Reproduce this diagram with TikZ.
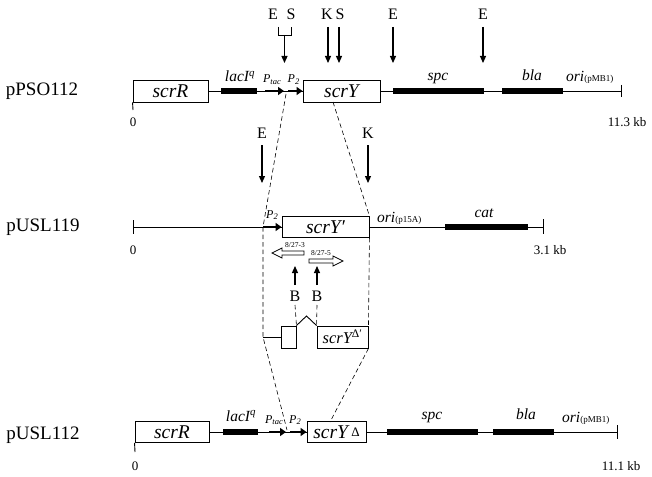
\documentclass[tikz,border=0pt]{standalone}
\usepackage{fontspec}
\setmainfont{Liberation Serif}
\usetikzlibrary{arrows.meta}
\tikzset{
  gbox/.style={draw, line width=0.9pt, inner sep=0pt, font=\fontsize{19.5}{21}\selectfont\itshape},
  sbox/.style={draw, line width=0.9pt, inner sep=0pt},
  gbar/.style={fill=black, inner sep=0pt, minimum height=6pt},
  bb/.style={line width=0.9pt},
  site/.style={line width=1.2pt, -{Triangle[length=7pt,width=6pt]}},
  sitelab/.style={font=\fontsize{16}{18}\selectfont, inner sep=0pt},
  glab/.style={font=\fontsize{15.5}{17}\selectfont\itshape, inner sep=0pt, anchor=base},
  promlab/.style={font=\fontsize{12}{13}\selectfont\itshape, inner sep=0pt, anchor=base},
  prom/.style={line width=2.6pt, -{Triangle[length=6pt,width=8pt]}},
  dsh/.style={line width=0.6pt, dash pattern=on 4.5pt off 3pt},
  plab/.style={font=\fontsize{19}{22}\selectfont, inner sep=0pt},
  num/.style={font=\fontsize{13}{15}\selectfont, inner sep=0pt},
  prim/.style={font=\fontsize{7.5}{8}\selectfont, inner sep=0pt},
  primer/.style={draw, fill=white, line width=0.7pt},
}
\newcommand{\oriL}[1]{ori{\upshape\fontsize{9}{10}\selectfont(#1)}}
\newcommand{\Ptac}{P\raisebox{-1.5pt}{\fontsize{8.5}{9}\selectfont tac}}
\newcommand{\Ptwo}{P\raisebox{-1.5pt}{\fontsize{8.5}{9}\selectfont 2}}
\begin{document}
\begin{tikzpicture}[x=1pt,y=-1pt]
\useasboundingbox (0,0) rectangle (652,476);
\fill[white] (0,0) rectangle (652,476);

% ================= pPSO112 =================
\node[plab] (nma) at (42,91) {pPSO112};
\node[gbox, minimum width=75pt, minimum height=22pt] (scrRa) at (170.5,91) {scrR};
\node[gbar, minimum width=36pt] (laca) at (239,91) {};
\node[gbox, minimum width=77pt, minimum height=22pt] (scrYa) at (341.5,91) {scrY};
\node[gbar, minimum width=91pt] (spca) at (438.5,91) {};
\node[gbar, minimum width=61pt] (blaa) at (532.5,91) {};
\coordinate (taila) at (133,110);
\coordinate (enda) at (621,91);
\coordinate (enda1) at (621,85);
\coordinate (enda2) at (621,97);
\coordinate (ptaca1) at (265,91);
\coordinate (ptaca2) at (284,91);
\coordinate (p2a1) at (288,91);
\draw[bb] (scrRa.south west) -- (taila);
\draw[bb] (scrRa.east) -- (laca.west) (laca.east) -- (scrYa.west)
  (scrYa.east) -- (spca.west) (spca.east) -- (blaa.west) (blaa.east) -- (enda);
\draw[bb] (enda1) -- (enda2);
\draw[prom] (ptaca1) -- (ptaca2);
\draw[prom] (p2a1) -- (scrYa.west);
\node[glab] (lacaL) at (240,82) {lacI\textsuperscript{q}};
\node[glab] (spcaL) at (438,81) {spc};
\node[glab] (blaaL) at (532,81) {bla};
\node[glab, anchor=base west] (oriaL) at (566,82) {\oriL{pMB1}};
\node[promlab] (ptacaL) at (272,83) {\Ptac};
\node[promlab] (p2aL) at (293.5,83) {\Ptwo};
\node[num] (zeroa) at (133,122) {0};
\node[num] (kba) at (627,122) {11.3 kb};

% restriction sites
\node[sitelab] (Ea) at (273,14) {E};
\node[sitelab] (Sa) at (291,14) {S};
\node[sitelab] (Ka) at (327,14) {K};
\node[sitelab] (Sb) at (340,14) {S};
\node[sitelab] (Eb) at (393,14) {E};
\node[sitelab] (Ec) at (483,14) {E};
\coordinate (bl1) at (278,27);
\coordinate (bl2) at (278,35);
\coordinate (br2) at (291,35);
\coordinate (br1) at (291,27);
\coordinate (bm1) at (284.5,35);
\coordinate (bm2) at (284.5,63);
\draw[bb] (bl1) -- (bl2) -- (br2) -- (br1);
\draw[site] (bm1) -- (bm2);
\foreach \n/\xx in {k1/328, s1/339, e1/393, e2/483}{
  \coordinate (\n t) at (\xx,27);
  \coordinate (\n b) at (\xx,63);
  \draw[site] (\n t) -- (\n b);
}

% ================= pUSL119 =================
\node[plab] (nmb) at (43,227) {pUSL119};
\coordinate (startb) at (133,227);
\coordinate (tailb1) at (133,220);
\coordinate (tailb2) at (133,234);
\node[gbox, minimum width=87pt, minimum height=21pt] (scrYb) at (325.5,227) {scrY′};
\node[gbar, minimum width=83pt] (catb) at (486.5,227) {};
\coordinate (endb) at (543,227);
\coordinate (endb1) at (543,219);
\coordinate (endb2) at (543,234);
\coordinate (p2b1) at (263,227);
\draw[bb] (tailb1) -- (tailb2);
\draw[bb] (startb) -- (scrYb.west) (scrYb.east) -- (catb.west) (catb.east) -- (endb);
\draw[bb] (endb1) -- (endb2);
\draw[prom] (p2b1) -- (scrYb.west);
\node[promlab] (p2bL) at (272,218) {\Ptwo};
\node[glab] (catbL) at (484,217) {cat};
\node[glab, anchor=base west] (oribL) at (377,222) {\oriL{p15A}};
\node[num] (zerob) at (133,250) {0};
\node[num] (kbb) at (550,250) {3.1 kb};
\node[sitelab] (Ed) at (262,133) {E};
\node[sitelab] (Kb) at (368,133) {K};
\coordinate (edt) at (262,145);
\coordinate (edb) at (262,183);
\coordinate (kbt) at (368,145);
\coordinate (kbbt) at (368,183);
\draw[site] (edt) -- (edb);
\draw[site] (kbt) -- (kbbt);

% primers
\draw[primer] (272,253) -- (282,248) -- (282,251) -- (304,251) -- (304,255) -- (282,255) -- (282,258) -- cycle;
\draw[primer] (343,261) -- (333,256) -- (333,259) -- (309,259) -- (309,263) -- (333,263) -- (333,266) -- cycle;
\node[prim] (pr3) at (295,245) {8/27-3};
\node[prim] (pr5) at (321,253) {8/27-5};

% BamHI sites
\node[sitelab] (Ba) at (295,296) {B};
\node[sitelab] (Bb) at (317,296) {B};
\coordinate (ba1) at (295,285);
\coordinate (ba2) at (295,266);
\coordinate (bb1) at (317,285);
\coordinate (bb2) at (317,266);
\draw[site] (ba1) -- (ba2);
\draw[site] (bb1) -- (bb2);

% deletion construct
\node[sbox, minimum width=15pt, minimum height=22pt] (sb) at (288.5,337) {};
\node[gbox, minimum width=51pt, minimum height=22pt, font=\fontsize{16.5}{18}\selectfont\itshape] (scrYc) at (342.5,337) {scrY\textsuperscript{\upshape Δ′}};
\coordinate (lj) at (263,337);
\coordinate (chev) at (306.5,316);
\coordinate (bad) at (295,305);
\coordinate (bbd) at (317,305);
\draw[bb] (lj) -- (sb.west);
\draw[bb] (sb.north east) -- (chev) -- (scrYc.north west);
\draw[dsh] (bad) -- (sb.north east);
\draw[dsh] (bbd) -- (scrYc.north west);

% ================= pUSL112 =================
\node[plab] (nmc) at (43,435) {pUSL112};
\node[gbox, minimum width=74pt, minimum height=21pt] (scrRc) at (172,432) {scrR};
\node[gbar, minimum width=35pt] (lacc) at (240.5,432) {};
\node[gbox, minimum width=59pt, minimum height=21pt] (scrYd) at (336.5,432) {scrY\,\raisebox{2pt}{\fontsize{13}{13}\selectfont\upshape Δ}};
\node[gbar, minimum width=91pt] (spcc) at (432.5,432) {};
\node[gbar, minimum width=61pt] (blac) at (523.5,432) {};
\coordinate (tailc) at (135,452);
\coordinate (endc) at (617,432);
\coordinate (endc1) at (617,425);
\coordinate (endc2) at (617,439);
\coordinate (ptacc1) at (269,432);
\coordinate (ptacc2) at (286,432);
\coordinate (p2c1) at (290,432);
\draw[bb] (scrRc.south west) -- (tailc);
\draw[bb] (scrRc.east) -- (lacc.west) (lacc.east) -- (scrYd.west)
  (scrYd.east) -- (spcc.west) (spcc.east) -- (blac.west) (blac.east) -- (endc);
\draw[bb] (endc1) -- (endc2);
\draw[prom] (ptacc1) -- (ptacc2);
\draw[prom] (p2c1) -- (scrYd.west);
\node[glab] (laccL) at (241,421) {lacI\textsuperscript{q}};
\node[glab] (spccL) at (432,419) {spc};
\node[glab] (blacL) at (526,419) {bla};
\node[glab, anchor=base west] (oricL) at (562,422) {\oriL{pMB1}};
\node[promlab] (ptaccL) at (274,423) {\Ptac};
\node[promlab] (p2cL) at (295,423) {\Ptwo};
\node[num] (zeroc) at (135,466) {0};
\node[num] (kbc) at (621,466) {11.1 kb};

% ================= dashed guides =================
\coordinate (da1) at (286,94);
\coordinate (db1) at (333,102);
\coordinate (dc1) at (287,430);
\coordinate (dd1) at (330,422);
\draw[dsh] (da1) -- (p2b1) -- (lj) -- (dc1);
\draw[dsh] (db1) -- (scrYb.north east);
\draw[dsh] (scrYb.south east) -- (scrYc.north east);
\draw[dsh] (scrYc.south east) -- (dd1);
\end{tikzpicture}
\end{document}
